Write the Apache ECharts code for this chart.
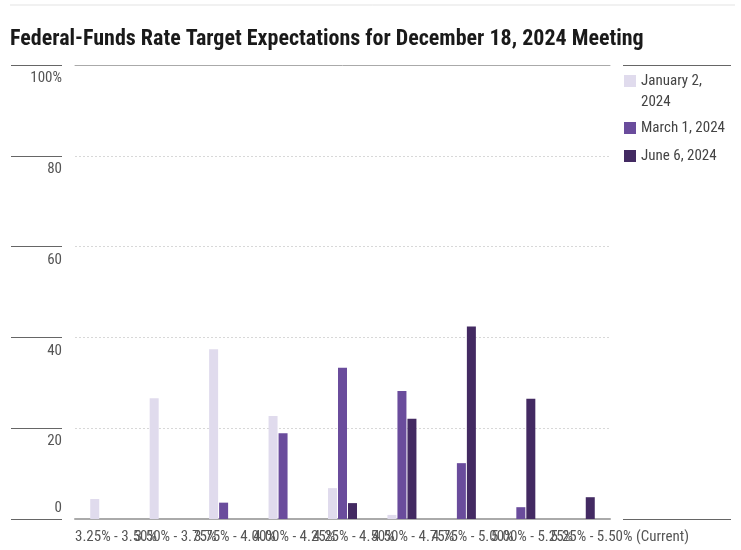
<!DOCTYPE html>
<html><head><meta charset="utf-8">
<script src="https://cdn.jsdelivr.net/npm/echarts@6/dist/echarts.min.js"></script>
<style>html,body{margin:0;padding:0;background:#fff}#c{width:741px;height:550px}</style>
</head><body><div id="c"></div>
<script>
const categories = ['3.25% - 3.50%', '3.50% - 3.75%', '3.75% - 4.00%', '4.00% - 4.25%', '4.25% - 4.50%', '4.50% - 4.75%', '4.75% - 5.00%', '5.00% - 5.25%', '5.25% - 5.50% (Current)'];
const seriesNames = ['January 2, 2024', 'March 1, 2024', 'June 6, 2024'];
const jan = [4.4, 26.6, 37.4, 22.7, 6.8, 0.9, 0, 0, 0];
const mar = [0, 0, 3.6, 18.9, 33.3, 28.2, 12.3, 2.6, 0];
const jun = [0, 0, 0, 0, 3.5, 22.1, 42.4, 26.5, 4.8];
const yTickLabels = {0: '0', 20: '20', 40: '40', 60: '60', 80: '80', 100: '100%'};
const colors = ['#e0dbed', '#6a4c9c', '#432a62'];
const FONT = '"Roboto Condensed", "Liberation Sans Narrow", sans-serif';

const chart = echarts.init(document.getElementById('c'), null, {renderer: 'canvas'});
const hidden = {axisLine: {show: false}, axisTick: {show: false}, axisLabel: {show: false}, splitLine: {show: false}};
const legendBase = {orient: 'vertical', left: 624, padding: 0, itemWidth: 12, itemHeight: 12, icon: 'rect', selectedMode: false,
  textStyle: {fontFamily: FONT, fontSize: 15, color: '#444', lineHeight: 20}};
// category-start label axes: even and odd indices on separate axes so no label is auto-hidden
const labelAxis = parity => ({type: 'value', gridIndex: 0, min: 0, max: categories.length, interval: 1, position: 'bottom',
  axisLine: {show: false}, axisTick: {show: false}, splitLine: {show: false},
  axisLabel: {formatter: v => (v % 2 === parity && categories[v]) ? categories[v] : '', align: 'left', margin: 11,
    showMinLabel: true, showMaxLabel: true, hideOverlap: false, fontFamily: FONT, fontSize: 15, color: '#555'}});
chart.setOption({
  animation: false,
  backgroundColor: '#fff',
  title: {text: 'Federal-Funds Rate Target Expectations for December 18, 2024 Meeting', left: 10, top: 28, padding: 0,
    textStyle: {fontFamily: FONT, fontSize: 22, fontWeight: 'bold', color: '#1a1a1a'}},
  graphic: [
    {type: 'line', shape: {x1: 10, y1: 5, x2: 735, y2: 5}, style: {stroke: '#e3e3e3', lineWidth: 1}},
    {type: 'text', left: 641, top: 95, style: {text: '2024', font: '15px ' + FONT, fill: '#444'}}
  ],
  legend: [
    Object.assign({}, legendBase, {top: 71, data: [seriesNames[0]], formatter: () => 'January 2,'}),
    Object.assign({}, legendBase, {top: 118, data: [seriesNames[1]]}),
    Object.assign({}, legendBase, {top: 146, data: [seriesNames[2]]})
  ],
  grid: [
    {left: 75, width: 535, top: 65, height: 454},
    {left: 11, width: 51, top: 65, height: 454},
    {left: 623, width: 108, top: 65, height: 454}
  ],
  xAxis: [
    {type: 'category', gridIndex: 0, data: categories, position: 'bottom',
      axisLine: {lineStyle: {color: '#aaa', width: 2}}, axisTick: {show: false}, axisLabel: {show: false}, splitLine: {show: false}},
    labelAxis(0),
    labelAxis(1),
    Object.assign({type: 'value', gridIndex: 0, min: 0, max: 1, position: 'top'}, hidden, {axisLine: {show: true, lineStyle: {color: '#aaa', width: 1}}}),
    Object.assign({type: 'value', gridIndex: 1, min: 0, max: 1}, hidden),
    Object.assign({type: 'value', gridIndex: 2, min: 0, max: 1}, hidden)
  ],
  yAxis: [
    {type: 'value', gridIndex: 0, min: 0, max: 100, interval: 20,
      axisLine: {show: false}, axisTick: {show: false},
      splitLine: {show: true, showMinLine: false, showMaxLine: false, lineStyle: {color: '#d8d8d8', type: [2, 2], width: 1}},
      axisLabel: {formatter: v => v === 0 ? yTickLabels[0] : '', verticalAlign: 'bottom', margin: 13, padding: [0, 0, 3, 0],
        showMinLabel: true, fontFamily: FONT, fontSize: 15, color: '#555'}},
    {type: 'value', gridIndex: 1, min: 0, max: 100, interval: 20, position: 'right',
      axisLine: {show: false}, axisTick: {show: false},
      splitLine: {show: true, showMinLine: true, showMaxLine: true, lineStyle: {color: '#666', width: 1}},
      axisLabel: {inside: true, formatter: v => v === 0 ? '' : yTickLabels[v], verticalAlign: 'top', margin: 0, padding: [6, 0, 0, 0],
        showMaxLabel: true, fontFamily: FONT, fontSize: 15, color: '#555'}},
    Object.assign({type: 'value', gridIndex: 2, min: 0, max: 100, interval: 100}, hidden,
      {splitLine: {show: true, lineStyle: {color: '#666', width: 1}}})
  ],
  series: [
    {name: seriesNames[0], type: 'bar', xAxisIndex: 0, yAxisIndex: 0, data: jan, barWidth: 9, barGap: '11%', itemStyle: {color: colors[0]}},
    {name: seriesNames[1], type: 'bar', xAxisIndex: 0, yAxisIndex: 0, data: mar, barWidth: 9, barGap: '11%', itemStyle: {color: colors[1]}},
    {name: seriesNames[2], type: 'bar', xAxisIndex: 0, yAxisIndex: 0, data: jun, barWidth: 9, barGap: '11%', itemStyle: {color: colors[2]}}
  ]
});
</script></body></html>
